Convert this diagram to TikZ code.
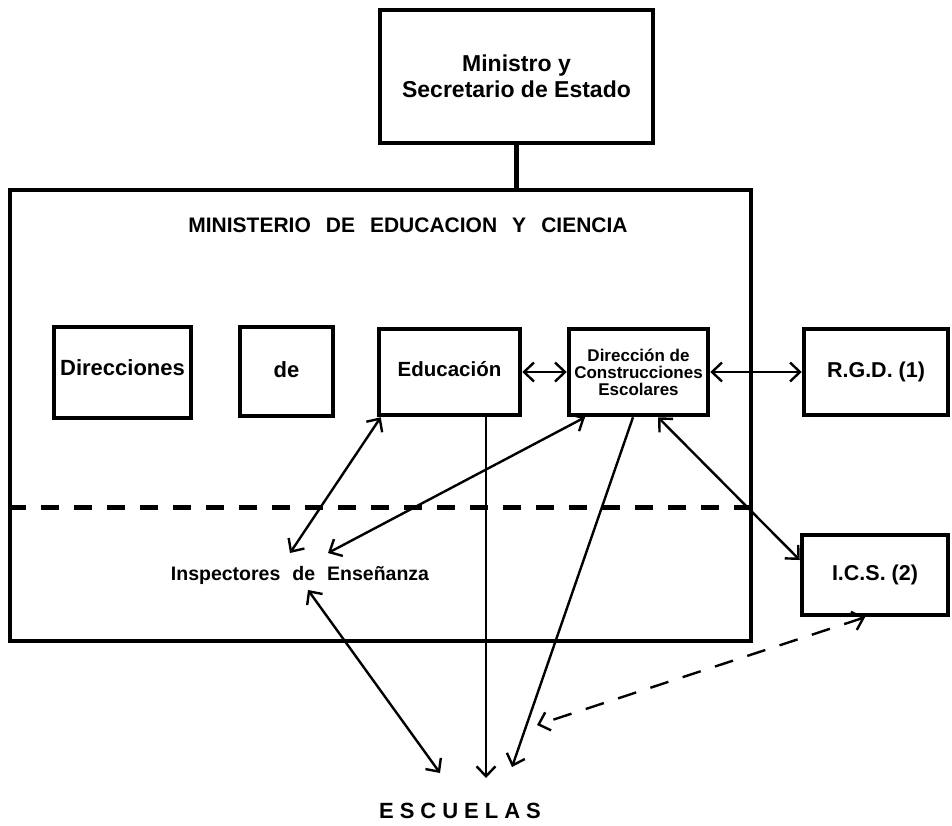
\documentclass[tikz,border=0pt]{standalone}
\usepackage{fontspec}
\setmainfont{Liberation Sans}
\usetikzlibrary{arrows.meta}
\newcommand{\widespace}[1]{\spaceskip=#1\relax}
\begin{document}
\begin{tikzpicture}[x=1pt,y=-1pt,
  box/.style={draw, line width=4.5pt, rectangle, inner sep=0pt, align=center},
  conn/.style={line width=2.4pt},
  >={Straight Barb[length=10pt,width=19pt]}]
\useasboundingbox (0,0) rectangle (952,825);
% boxes
\node[box, minimum width=273pt, minimum height=133pt,
      font=\fontsize{23}{26}\selectfont\bfseries] (top) at (516.5,76.5) {Ministro y\\Secretario de Estado};
\node[box, line width=4pt, minimum width=741pt, minimum height=451pt] (mec) at (380.5,415.5) {};
\node[font=\fontsize{21}{25}\selectfont\bfseries] (title) at (408,225) {\widespace{15pt}MINISTERIO DE EDUCACION Y CIENCIA};
\node[box, minimum width=137pt, minimum height=91pt, font=\fontsize{22}{24}\selectfont\bfseries] (dir) at (122.5,372.5) {\raisebox{10pt}{Direcciones}};
\node[box, minimum width=93pt, minimum height=89pt, font=\fontsize{22}{24}\selectfont\bfseries] (de) at (286.5,371.5) {\raisebox{3pt}{de}};
\node[box, minimum width=141pt, minimum height=86pt, font=\fontsize{20.5}{24}\selectfont\bfseries] (edu) at (449.5,372) {\raisebox{7pt}{Educación}};
\node[box, minimum width=139pt, minimum height=86pt, font=\fontsize{17}{17}\selectfont\bfseries] (dce) at (638.5,372) {Dirección de\\Construcciones\\Escolares};
\node[box, minimum width=144pt, minimum height=86pt, font=\fontsize{21.5}{24}\selectfont\bfseries] (rgd) at (876,372) {R.G.D. (1)};
\node[box, minimum width=146pt, minimum height=80pt, font=\fontsize{21.5}{24}\selectfont\bfseries] (ics) at (875,575) {I.C.S. (2)};
\node[font=\fontsize{19.5}{23}\selectfont\bfseries] (insp) at (300,575) {\widespace{12pt}Inspectores de Enseñanza};
\node[font=\fontsize{22}{26}\selectfont\bfseries] (esc) at (460,811) {E\kern6pt S\kern6pt C\kern6pt U\kern6pt E\kern6pt L\kern6pt A\kern6pt S};
% connectors
\draw[line width=4.5pt] (top.south) -- (top.south |- mec.north);
\draw[line width=5pt, dash pattern=on 18pt off 15pt] (mec.west |- 0,507) -- (mec.east |- 0,507);
\coordinate (iA) at (290,553);
\coordinate (iB) at (328,553);
\coordinate (iC) at (308,590);
\coordinate (eA) at (440,773);
\coordinate (eB) at (486,778);
\coordinate (eC) at (512,767);
\coordinate (eD) at (537,725);
\draw[conn,<->] (edu.east) -- (dce.west);
\draw[conn,<->] (dce.east) -- (rgd.west);
\draw[conn,<->] ([xshift=4pt]edu.south west) -- (iA);
\draw[conn,<->] ([xshift=-53.5pt]dce.south) -- (iB);
\draw[conn,->] (eB |- edu.south) -- (eB);
\draw[conn,->] ([xshift=-5.5pt]dce.south) -- (eC);
\draw[conn,<->] ([xshift=19.5pt]dce.south) -- ([yshift=15pt]ics.west);
\draw[conn,<->] (iC) -- (eA);
\draw[conn,<->, dash pattern=on 19pt off 15pt] ([xshift=-10pt]ics.south) -- (eD);
\end{tikzpicture}
\end{document}
